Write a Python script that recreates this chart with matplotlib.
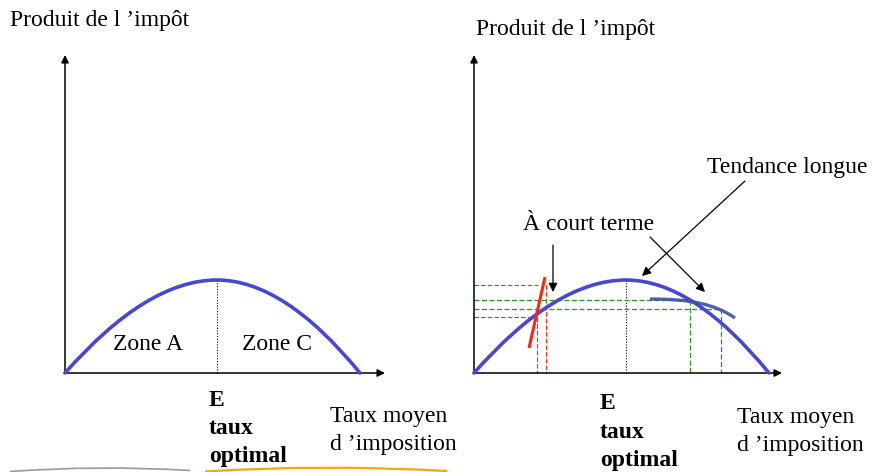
import matplotlib
matplotlib.use("Agg")
import matplotlib.pyplot as plt
from matplotlib.path import Path
from matplotlib.patches import PathPatch

# Diagram drawn in pixel coordinates of the 872x472 slide (y grows downward)
W, H = 872, 472

# Laffer curve control points for the left panel (quadratic Bezier halves)
LAFFER_X = [65, 147, 217, 284, 360]
LAFFER_Y = [373, 280, 280, 280, 373]
PANEL_SHIFT = [0, 409]          # right panel = left panel shifted
ORIGIN_Y = 373
AXIS_TOP = 55
AXIS_RIGHT = [385, 782]

# labels
Y_LABEL = "Produit de l \u2019impôt"
X_LABEL = ["Taux moyen", "d \u2019imposition"]
OPT_LABEL = ["E", "taux", "optimal"]
ZONES = ["Zone A", "Zone C"]

# right panel: short-run tangent (red) and long trend (dark blue)
SHORT_X = [529, 545]
SHORT_Y = [348, 277]
RED_H_Y = [285, 317]
RED_H_XEND = [546, 537]
GREEN_H_Y = [300, 309]
GREEN_H_XEND = [690, 721]
TREND_X = [650, 690, 715, 735]
TREND_Y = [299, 299, 304, 318]

BLUE = "#4747d6"
DARK_BLUE = "#3d4fa6"
RED = "#ff2410"
GREEN = "#1f9a1f"

plt.rcParams["font.family"] = ["Liberation Serif", "DejaVu Serif"]
FS = 17

fig = plt.figure(figsize=(W / 100, H / 100), dpi=100)
ax = fig.add_axes([0, 0, 1, 1])
ax.set_xlim(0, W)
ax.set_ylim(H, 0)
ax.axis("off")

arrow_kw = dict(arrowstyle="-|>", color="black", lw=1.1,
                mutation_scale=11, shrinkA=0, shrinkB=0)

for i, dx in enumerate(PANEL_SHIFT):
    x0 = LAFFER_X[0] + dx
    # axes
    ax.annotate("", xy=(x0, AXIS_TOP), xytext=(x0, ORIGIN_Y), arrowprops=arrow_kw)
    ax.annotate("", xy=(AXIS_RIGHT[i], ORIGIN_Y), xytext=(x0 - 1, ORIGIN_Y),
                arrowprops=arrow_kw)
    # Laffer curve
    verts = [(x + dx, y) for x, y in zip(LAFFER_X, LAFFER_Y)]
    codes = [Path.MOVETO] + [Path.CURVE3] * 4
    ax.add_patch(PathPatch(Path(verts, codes), fc="none", ec=BLUE, lw=2.6,
                           capstyle="round", zorder=3))
    # optimal rate marker
    xpk = LAFFER_X[2] + dx
    ax.plot([xpk, xpk], [LAFFER_Y[2], ORIGIN_Y], color="black", lw=0.8,
            ls=(0, (1, 1.5)), zorder=2)

# left panel text
ax.text(10, 26, Y_LABEL, fontsize=FS, va="baseline")
ax.text(148, 350, ZONES[0], fontsize=FS, ha="center", va="baseline")
ax.text(277, 350, ZONES[1], fontsize=FS, ha="center", va="baseline")
for txt, yb in zip(OPT_LABEL, [406, 434, 462]):
    ax.text(209, yb, txt, fontsize=FS, fontweight="bold", va="baseline")
for txt, yb in zip(X_LABEL, [422, 450]):
    ax.text(330, yb, txt, fontsize=FS, va="baseline")

# right panel text
ax.text(476, 35, Y_LABEL, fontsize=FS, va="baseline")
for txt, yb in zip(OPT_LABEL, [409, 438, 466]):
    ax.text(600, yb, txt, fontsize=FS, fontweight="bold", va="baseline")
for txt, yb in zip(X_LABEL, [423, 451]):
    ax.text(737, yb, txt, fontsize=FS, va="baseline")
ax.text(523, 230, "À court terme", fontsize=FS, va="baseline")
ax.text(707, 173, "Tendance longue", fontsize=FS, va="baseline")

# short-run dashed projections (red)
x_axis0 = LAFFER_X[0] + PANEL_SHIFT[1]
for yh, xe in zip(RED_H_Y, RED_H_XEND):
    ax.plot([x_axis0, xe - 8], [yh, yh], color=RED, lw=0.8, ls=(0, (4, 2)))
    ax.plot([xe, xe], [yh, ORIGIN_Y], color=RED, lw=0.8, ls=(0, (4, 2)))
# long-run dashed projections (green)
for yh, xe in zip(GREEN_H_Y, GREEN_H_XEND):
    ax.plot([x_axis0, xe], [yh, yh], color=GREEN, lw=0.9, ls=(0, (4, 2)))
    ax.plot([xe, xe], [yh, ORIGIN_Y], color=GREEN, lw=0.9, ls=(0, (4, 2)))

# short-run tangent
ax.plot(SHORT_X, SHORT_Y, color=RED, lw=2.2, solid_capstyle="butt", zorder=4)
# long trend
tv = list(zip(TREND_X, TREND_Y))
ax.add_patch(PathPatch(Path(tv, [Path.MOVETO] + [Path.CURVE4] * 3), fc="none",
                       ec=DARK_BLUE, lw=2.4, alpha=0.9, zorder=4))

# annotation arrows
ann_kw = dict(arrowstyle="-|>", color="black", lw=0.9, mutation_scale=13,
              shrinkA=0, shrinkB=0)
ax.annotate("", xy=(553, 292), xytext=(553, 245), arrowprops=ann_kw)
ax.annotate("", xy=(642, 276), xytext=(745, 181), arrowprops=ann_kw)
ax.annotate("", xy=(705, 292), xytext=(650, 237), arrowprops=ann_kw)

# slide decoration at the bottom
ax.add_patch(PathPatch(Path([(10, 471.5), (100, 465), (190, 470.5)],
                            [Path.MOVETO, Path.CURVE3, Path.CURVE3]),
                       fc="none", ec="#9a9a9a", lw=1.2))
ax.add_patch(PathPatch(Path([(205, 471.5), (325, 464), (447, 471)],
                            [Path.MOVETO, Path.CURVE3, Path.CURVE3]),
                       fc="none", ec="#f5a800", lw=1.6))

fig.savefig("out.png", dpi=100, facecolor="white")
